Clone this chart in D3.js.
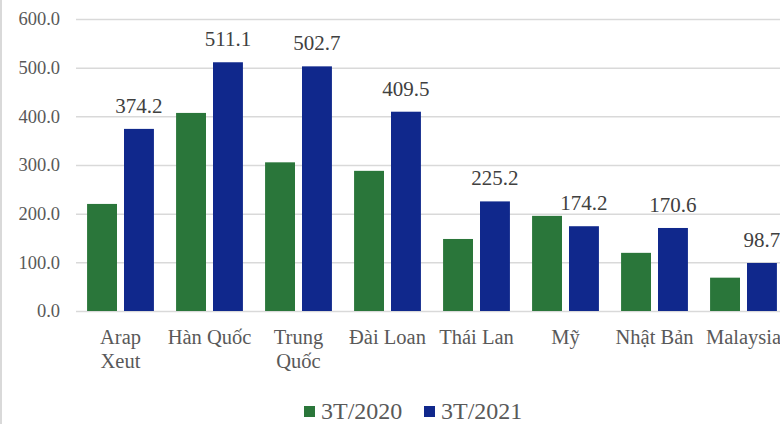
<!DOCTYPE html>
<html>
<head>
<meta charset="utf-8">
<script src="https://cdn.jsdelivr.net/npm/d3@7"></script>
<style>
  body { margin: 0; background: #fff; }
  svg { display: block; }
  svg text { font-family: "Liberation Serif", "Times New Roman", Times, "DejaVu Serif", serif; }
</style>
</head>
<body>
<svg id="chart" width="780" height="424"></svg>
<script>
// data
const categories = ["Arap Xeut", "Hàn Quốc", "Trung Quốc", "Đài Loan", "Thái Lan", "Mỹ", "Nhật Bản", "Malaysia"];
const seriesNames = ["3T/2020", "3T/2021"];
const values2020 = [220.0, 407.0, 305.5, 288.0, 148.0, 195.5, 119.5, 68.5];
const values2021 = [374.2, 511.1, 502.7, 409.5, 225.2, 174.2, 170.6, 98.7];
const yTicks = [0, 100, 200, 300, 400, 500, 600];
// labels that wrap onto two lines
const labelLines = {
  "Arap Xeut": ["Arap", "Xeut"],
  "Trung Quốc": ["Trung", "Quốc"]
};

const colors = ["#2a763a", "#10288c"];
const width = 780, height = 424;
const margin = { top: 19, right: -8, bottom: 113, left: 76 };
const serif = "'Liberation Serif', 'Times New Roman', Times, 'DejaVu Serif', serif";

const svg = d3.select("#chart");

// outer frame (left edge visible)
svg.append("line")
  .attr("x1", 1).attr("x2", 1).attr("y1", 0).attr("y2", height)
  .attr("stroke", "#d9d9d9").attr("stroke-width", 2);

const x = d3.scaleBand()
  .domain(categories)
  .range([margin.left, width - margin.right])
  .paddingInner(0)
  .paddingOuter(0);

const xInner = d3.scaleBand()
  .domain(seriesNames)
  .range([0, x.bandwidth()])
  .paddingInner(0.19)
  .paddingOuter(0.3);

const y = d3.scaleLinear()
  .domain([0, 600])
  .range([height - margin.bottom, margin.top]);

// gridlines + y labels
const yAxis = d3.axisLeft(y)
  .tickValues(yTicks)
  .tickSize(-(width - margin.right - margin.left))
  .tickPadding(16)
  .tickFormat(d3.format(".1f"));

svg.append("g")
  .attr("transform", `translate(${margin.left},0)`)
  .call(yAxis)
  .attr("font-family", null)
  .call(g => g.select(".domain").remove())
  .call(g => g.selectAll(".tick line").attr("stroke", "#d9d9d9").attr("stroke-width", 1.5))
  .call(g => g.selectAll(".tick text")
    .attr("fill", "#595959")
    .style("font-size", "18.5px")
    .style("font-family", serif));

// bars
const rows = categories.map((c, i) => ({ cat: c, vals: [values2020[i], values2021[i]] }));

const groups = svg.append("g")
  .selectAll("g")
  .data(rows)
  .join("g")
  .attr("transform", d => `translate(${x(d.cat)},0)`);

groups.selectAll("rect")
  .data(d => d.vals.map((v, k) => ({ key: seriesNames[k], v, k })))
  .join("rect")
  .attr("x", d => xInner(d.key))
  .attr("width", xInner.bandwidth())
  .attr("y", d => y(d.v))
  .attr("height", d => y(0) - y(d.v))
  .attr("fill", d => colors[d.k]);

// value labels on 3T/2021 bars
groups.append("text")
  .attr("x", xInner(seriesNames[1]) + xInner.bandwidth() / 2)
  .attr("y", d => y(d.vals[1]) - 16)
  .attr("text-anchor", "middle")
  .attr("fill", "#404040")
  .style("font-size", "21px")
  .style("font-family", serif)
  .text(d => d3.format(".1f")(d.vals[1]));

// x axis labels
const xAxis = svg.append("g")
  .attr("transform", `translate(0,${y(0)})`);

xAxis.selectAll("text")
  .data(categories)
  .join("text")
  .attr("x", d => x(d) + x.bandwidth() / 2)
  .attr("y", 33)
  .attr("text-anchor", "middle")
  .attr("fill", "#595959")
  .style("font-size", "20.5px")
  .style("font-family", serif)
  .each(function(d) {
    const lines = labelLines[d] || [d];
    d3.select(this).selectAll("tspan")
      .data(lines)
      .join("tspan")
      .attr("x", x(d) + x.bandwidth() / 2)
      .attr("dy", (l, i) => i === 0 ? 0 : 24)
      .text(l => l);
  });

// legend
const legend = svg.append("g")
  .attr("transform", "translate(304,406)");

const legendItems = legend.selectAll("g")
  .data(seriesNames)
  .join("g")
  .attr("transform", (d, i) => `translate(${i * 120},0)`);

legendItems.append("rect")
  .attr("width", 11).attr("height", 11)
  .attr("fill", (d, i) => colors[i]);

legendItems.append("text")
  .attr("x", 17)
  .attr("y", 12.5)
  .attr("fill", "#595959")
  .style("font-size", "24px")
  .style("font-family", serif)
  .text(d => d);
</script>
</body>
</html>
